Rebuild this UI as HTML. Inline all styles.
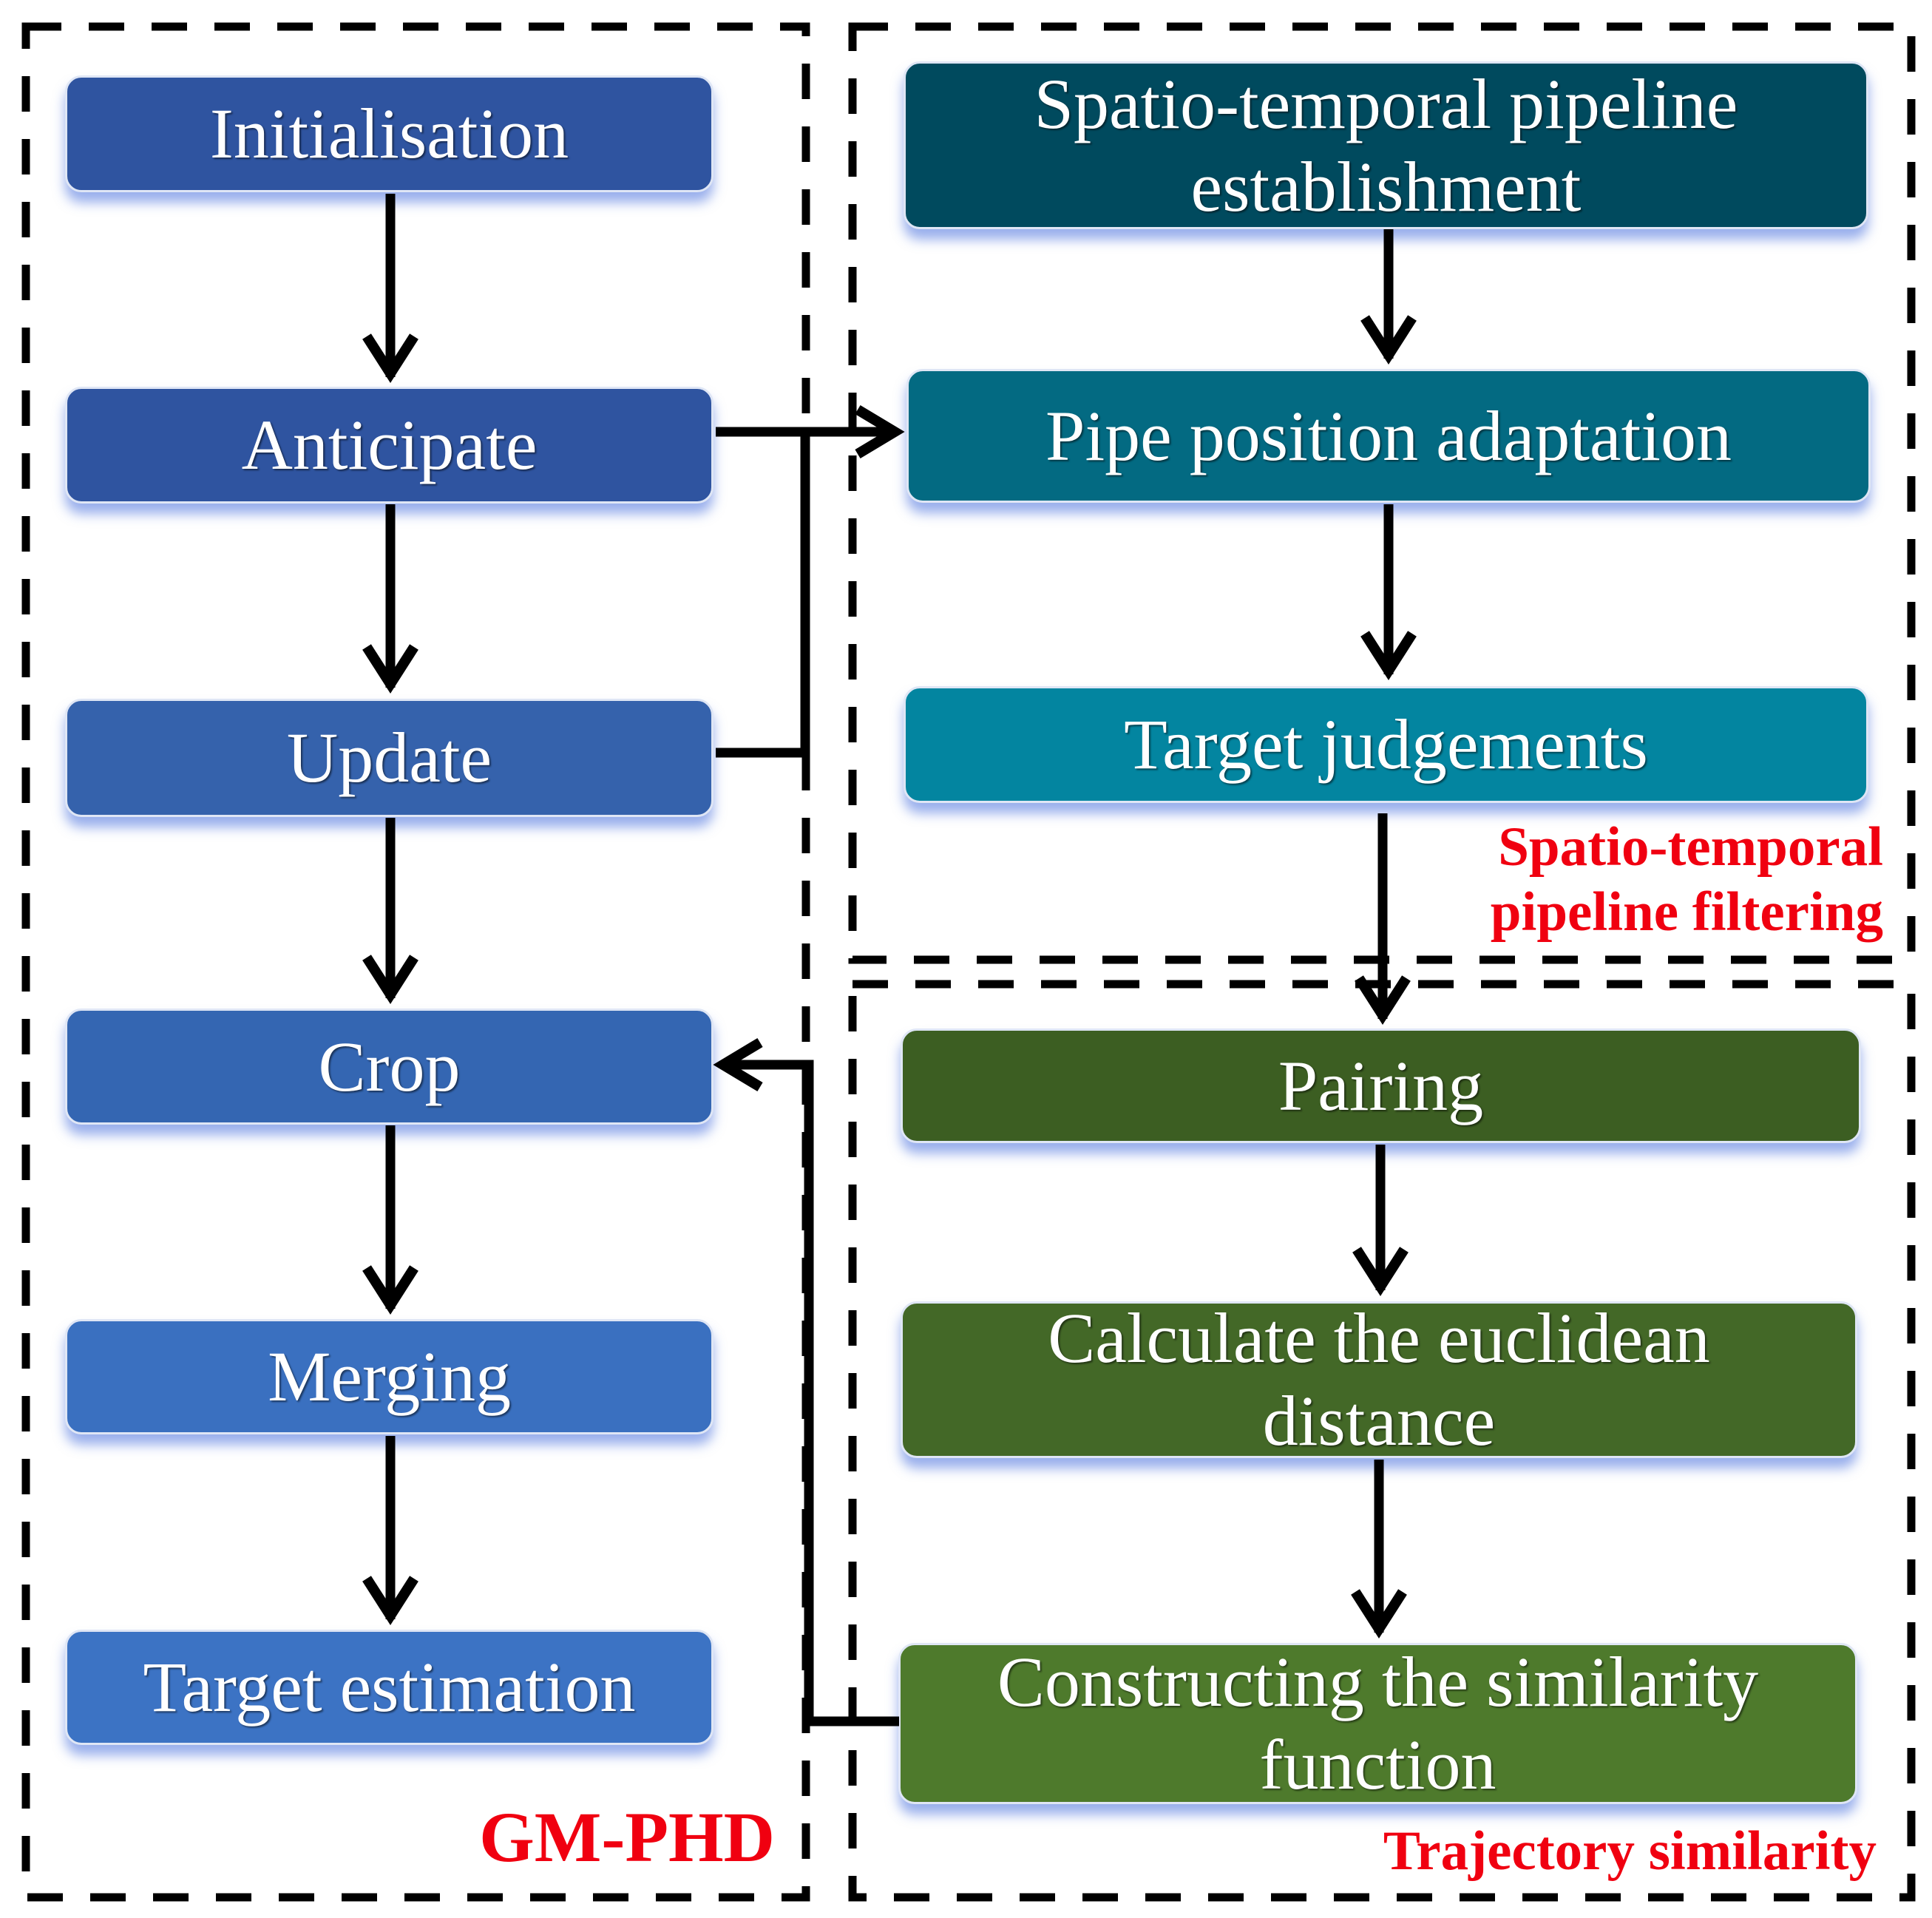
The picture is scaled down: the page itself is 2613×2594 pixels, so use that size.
<!DOCTYPE html>
<html><head><meta charset="utf-8"><style>
html,body{margin:0;padding:0;background:#fff;}
body{width:2613px;height:2594px;position:relative;overflow:hidden;font-family:"Liberation Serif",serif;}
.b{position:absolute;border-radius:22px;border:3px solid #dfe6f5;box-shadow:0 14px 16px rgba(70,110,220,0.55);color:#fff;display:flex;align-items:center;justify-content:center;text-align:center;font-size:96px;line-height:112px;text-shadow:2px 2px 2px rgba(0,0,0,0.5);box-sizing:border-box;}
.r{position:absolute;color:#f00010;font-weight:bold;text-align:right;}
svg{position:absolute;left:0;top:0;}
</style></head><body>
<svg width="2613" height="2594">
<g fill="none" stroke="#000" stroke-width="11" stroke-dasharray="48 37">
<rect x="35" y="36" width="1055" height="2530"/>
<rect x="1153" y="36" width="1432" height="1262"/>
<rect x="1153" y="1331" width="1432" height="1235"/>
</g>
</svg>
<div class="b" style="left:88px;top:102px;width:877px;height:158px;background:#2f54a0">Initialisation</div>
<div class="b" style="left:88px;top:523px;width:877px;height:158px;background:#2f54a0">Anticipate</div>
<div class="b" style="left:88px;top:945px;width:877px;height:160px;background:#3562ac">Update</div>
<div class="b" style="left:88px;top:1364px;width:877px;height:157px;background:#3466b2">Crop</div>
<div class="b" style="left:88px;top:1784px;width:877px;height:156px;background:#3a70c0">Merging</div>
<div class="b" style="left:88px;top:2204px;width:877px;height:156px;background:#3c73c4">Target estimation</div>
<div class="b" style="left:1222px;top:83px;width:1305px;height:227px;background:#004a5e">Spatio-temporal pipeline<br>establishment</div>
<div class="b" style="left:1226px;top:499px;width:1304px;height:181px;background:#036a82">Pipe position adaptation</div>
<div class="b" style="left:1222px;top:928px;width:1305px;height:158px;background:#0385a0">Target judgements</div>
<div class="b" style="left:1218px;top:1391px;width:1299px;height:155px;background:#3c5e22">Pairing</div>
<div class="b" style="left:1218px;top:1760px;width:1294px;height:212px;background:#436827">Calculate the euclidean<br>distance</div>
<div class="b" style="left:1215px;top:2222px;width:1297px;height:218px;background:#4e7a2c">Constructing the similarity<br>function</div>
<div class="r" style="left:500px;top:2430px;width:548px;font-size:96px;line-height:110px;">GM-PHD</div>
<div class="r" style="left:1700px;top:1102px;width:847px;font-size:75px;line-height:88px;">Spatio-temporal<br>pipeline filtering</div>
<div class="r" style="left:1600px;top:2460px;width:938px;font-size:75px;line-height:88px;">Trajectory similarity</div>
<svg width="2613" height="2594">
<g fill="none" stroke="#000" stroke-width="13" stroke-linecap="butt">
<path d="M528 262V510M528 682V930M528 1106V1350M528 1522V1770M528 1942V2190"/>
<path d="M968 584H1212M1089 584V1024M968 1018H1094"/>
<path d="M1878 310V485M1878 682V912M1870 1100V1378M1867 1548V1745M1865 1974V2208"/>
<path d="M1216 2328H1094V1440H978"/>
</g>
<g fill="none" stroke="#000" stroke-width="14" stroke-linejoin="miter">
<path d="M496 455L528 505L560 455M496 875L528 925L560 875M496 1295L528 1345L560 1295M496 1715L528 1765L560 1715M496 2135L528 2185L560 2135"/>
<path d="M1846 430L1878 480L1910 430M1846 857L1878 907L1910 857M1838 1323L1870 1373L1902 1323M1835 1690L1867 1740L1899 1690M1833 2153L1865 2203L1897 2153"/>
<path d="M1160 554L1210 584L1160 614M1028 1410L978 1440L1028 1470"/>
</g>
</svg>
</body></html>
